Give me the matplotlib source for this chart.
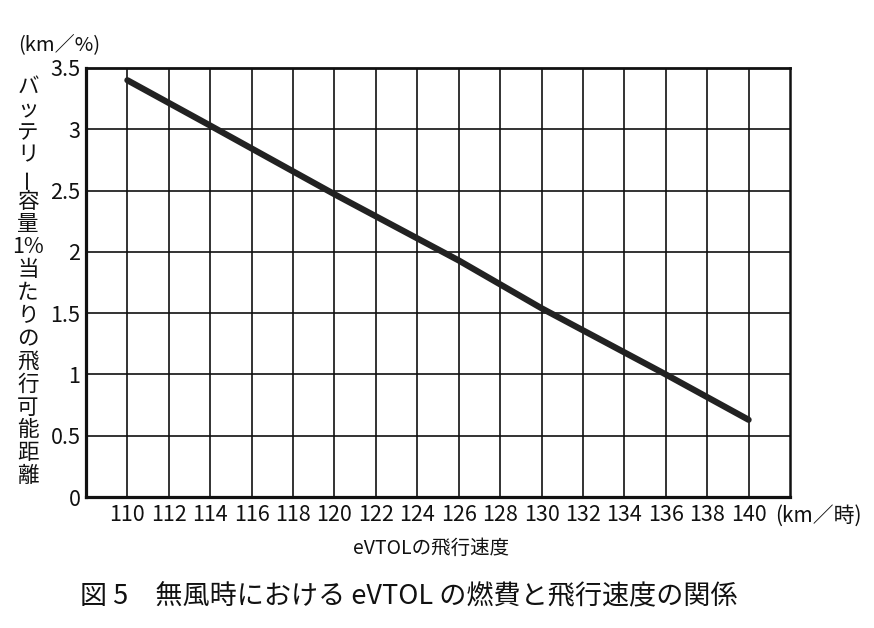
import matplotlib
matplotlib.use("Agg")
import matplotlib.pyplot as plt
from matplotlib import font_manager

plt.rcParams['font.family'] = ['Noto Sans CJK JP', 'DejaVu Sans']

# data
speed = [110, 114, 120, 126, 130, 136, 140]
distance = [3.40, 3.03, 2.47, 1.93, 1.54, 1.00, 0.63]

x_ticks = list(range(110, 141, 2))
y_ticks = [0, 0.5, 1, 1.5, 2, 2.5, 3, 3.5]
y_tick_labels = ["0", "0.5", "1", "1.5", "2", "2.5", "3", "3.5"]

ylabel_chars = ["バ", "ッ", "テ", "リ", "ー", "容", "量", "1%", "当", "た", "り",
                "の", "飛", "行", "可", "能", "距", "離"]
y_unit = "(km／%)"
x_unit = "(km／時)"
x_label = "eVTOLの飛行速度"
caption = "図 5　無風時における eVTOL の燃費と飛行速度の関係"

names = {f.name for f in font_manager.fontManager.ttflist}
tick_family = ['Liberation Sans Narrow'] if 'Liberation Sans Narrow' in names else ['Noto Sans CJK JP']
tick_size = 16.5 if 'Liberation Sans Narrow' in names else 15.5

W, H = 874, 628
fig = plt.figure(figsize=(W / 100, H / 100), dpi=100)
fig.patch.set_facecolor("white")

L, R, T, B = 86, 790, 68, 497
ax = fig.add_axes([L / W, 1 - B / H, (R - L) / W, (B - T) / H])

ax.set_xlim(108, 142)
ax.set_ylim(0, 3.5)
ax.set_xticks(x_ticks)
ax.set_xticklabels([str(v) for v in x_ticks], family=tick_family, fontsize=tick_size)
ax.set_yticks(y_ticks)
ax.set_yticklabels(y_tick_labels, family=tick_family, fontsize=tick_size)
ax.tick_params(axis='both', length=0, colors='#111111')
ax.tick_params(axis='x', pad=5)
ax.tick_params(axis='y', pad=4)

ax.grid(True, color='#111111', linewidth=1.2)
ax.set_axisbelow(True)
for side, lw in [('left', 2.3), ('bottom', 2.3), ('top', 2.0), ('right', 1.8)]:
    ax.spines[side].set_linewidth(lw)
    ax.spines[side].set_color('#111111')

ax.plot(speed, distance, color='#222222', linewidth=4.5, solid_capstyle='round', zorder=5)

def fx(px):
    return px / W

def fy(py):
    return 1 - py / H

# y-axis unit
fig.text(fx(18), fy(45), y_unit, fontsize=14.5, ha='left', va='center', color='#111111')

# vertical stacked y label
y0, step = 87, 22.9
for i, ch in enumerate(ylabel_chars):
    rot = 90 if ch == "ー" else 0
    fig.text(fx(28), fy(y0 + i * step), ch, fontsize=15.5, ha='center', va='center',
             rotation=rot, color='#111111')

# x-axis unit
fig.text(fx(775), fy(516), x_unit, fontsize=15, ha='left', va='center', color='#111111')

# x label
fig.text(fx(431), fy(548), x_label, fontsize=14, ha='center', va='center', color='#111111')

# caption
fig.text(fx(80), fy(597), caption, fontsize=19.5, ha='left', va='center', color='#111111')

fig.savefig("out.png", dpi=100, facecolor="white")
